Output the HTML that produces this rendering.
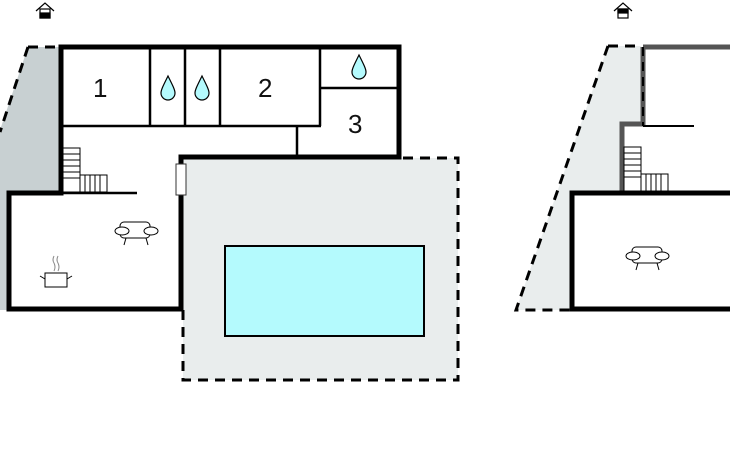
<!DOCTYPE html>
<html><head><meta charset="utf-8"><style>
html,body{margin:0;padding:0;background:#fff;width:730px;height:450px;overflow:hidden}
svg{display:block}
text{font-family:"Liberation Sans",sans-serif;font-size:26px;fill:#111}
</style></head><body>
<svg width="730" height="450" viewBox="0 0 730 450" xmlns="http://www.w3.org/2000/svg">
<!-- left gray trapezoid -->
<polygon points="28,47 60,47 60,192 9,192 9,310 0,310 0,130" fill="#c8d0d2"/>
<path d="M28,47 L0,132" stroke="#000" stroke-width="3" stroke-dasharray="10,7" fill="none"/>
<path d="M28,47 L58,47" stroke="#000" stroke-width="3" stroke-dasharray="10,7" fill="none"/>
<!-- pool area -->
<rect x="183" y="158" width="275" height="222" fill="#e9eded"/>
<path d="M183,310 L183,380 L458,380 L458,158 L400,158" stroke="#000" stroke-width="3" stroke-dasharray="10,7" fill="none"/>
<rect x="225" y="246" width="199" height="90" fill="#b4fafd" stroke="#000" stroke-width="2"/>
<!-- interior thin walls -->
<g stroke="#000" stroke-width="2.5" fill="none">
<line x1="61" y1="126" x2="321" y2="126"/>
<line x1="150" y1="47" x2="150" y2="126"/>
<line x1="185" y1="47" x2="185" y2="126"/>
<line x1="220" y1="47" x2="220" y2="126"/>
<line x1="320" y1="47" x2="320" y2="126"/>
<line x1="320" y1="88" x2="399" y2="88"/>
<line x1="297" y1="126" x2="297" y2="157"/>
<line x1="61" y1="193" x2="137" y2="193"/>
</g>
<!-- thick walls -->
<path d="M61,47 L399,47 L399,157 L181,157 L181,309 L9,309 L9,193 L61,193 Z" stroke="#000" stroke-width="5" fill="none" stroke-linejoin="miter"/>
<rect x="176" y="164" width="10" height="31" fill="#fff" stroke="#333" stroke-width="1"/>
<!-- stairs left -->
<g stroke="#000" stroke-width="1" fill="none">
<rect x="63" y="148" width="17" height="44"/>
<line x1="63" y1="154" x2="80" y2="154"/><line x1="63" y1="160" x2="80" y2="160"/><line x1="63" y1="166" x2="80" y2="166"/><line x1="63" y1="172" x2="80" y2="172"/><line x1="63" y1="178" x2="80" y2="178"/>
<rect x="80" y="175" width="27" height="17"/>
<line x1="85" y1="175" x2="85" y2="192"/><line x1="90" y1="175" x2="90" y2="192"/><line x1="95" y1="175" x2="95" y2="192"/><line x1="100" y1="175" x2="100" y2="192"/>
</g>
<text x="93" y="97">1</text><text x="258" y="97">2</text><text x="348" y="133">3</text>
<!-- drops -->
<g fill="#b4fafd" stroke="#000" stroke-width="1.2">
<path d="M168,76 C163,86 161,90 161,93 A7,7 0 0 0 175,93 C175,90 173,86 168,76Z"/>
<path d="M202,76 C197,86 195,90 195,93 A7,7 0 0 0 209,93 C209,90 207,86 202,76Z"/>
<path d="M359,55 C354,65 352,69 352,72 A7,7 0 0 0 366,72 C366,69 364,65 359,55Z"/>
</g>
<!-- sofa left -->
<g stroke="#000" stroke-width="1" fill="#fff">
<rect x="120" y="222" width="30" height="16" rx="4"/>
<ellipse cx="122" cy="231" rx="7" ry="4"/><ellipse cx="151" cy="231" rx="7" ry="4"/>
<line x1="126" y1="238" x2="124" y2="245"/><line x1="146" y1="238" x2="148" y2="245"/>
</g>
<!-- pot -->
<g stroke="#000" stroke-width="1" fill="#fff">
<rect x="45" y="273" width="22" height="14"/>
<line x1="40" y1="276" x2="45" y2="279"/><line x1="72" y1="276" x2="67" y2="279"/>
<path d="M54,256 q-2,4 0,7 q2,4 0,8 M58,256 q-2,4 0,7 q2,4 0,8" fill="none" stroke="#888"/>
</g>
<!-- house icons -->
<g stroke="#000" stroke-width="1.2" fill="#fff">
<path d="M36,11 L45,3 L54,11" fill="none"/><rect x="40" y="9" width="10" height="9"/><rect x="40" y="13" width="10" height="5" fill="#000"/>
<path d="M614,11 L623,3 L632,11" fill="none"/><rect x="618" y="9" width="10" height="9"/><rect x="618" y="9" width="10" height="4" fill="#000"/>
</g>
<!-- right plan -->
<polygon points="608,46 641,46 641,124 622,124 622,192 572,192 572,310 516,310" fill="#e9eded"/>
<path d="M608,46 L516,310 L570,310 M608,46 L641,46" stroke="#000" stroke-width="3" stroke-dasharray="10,7" fill="none"/>
<path d="M643,47 L730,47 M643,47 L643,126 M643,124 L622,124 L622,193" stroke="#555" stroke-width="5" fill="none"/>
<path d="M643,47 L643,126" stroke="#000" stroke-width="2" stroke-dasharray="9,6" fill="none"/>
<line x1="643" y1="126" x2="694" y2="126" stroke="#000" stroke-width="2"/>
<path d="M730,193 L572,193 L572,309 L730,309" stroke="#000" stroke-width="5" fill="none"/>
<g stroke="#000" stroke-width="1" fill="none">
<rect x="624" y="147" width="17" height="45"/>
<line x1="624" y1="153" x2="641" y2="153"/><line x1="624" y1="159" x2="641" y2="159"/><line x1="624" y1="165" x2="641" y2="165"/><line x1="624" y1="171" x2="641" y2="171"/><line x1="624" y1="177" x2="641" y2="177"/>
<rect x="641" y="174" width="27" height="18"/>
<line x1="646" y1="174" x2="646" y2="192"/><line x1="651" y1="174" x2="651" y2="192"/><line x1="656" y1="174" x2="656" y2="192"/><line x1="661" y1="174" x2="661" y2="192"/>
</g>
<g stroke="#000" stroke-width="1" fill="#fff">
<rect x="632" y="247" width="30" height="16" rx="4"/>
<ellipse cx="633" cy="256" rx="7" ry="4"/><ellipse cx="662" cy="256" rx="7" ry="4"/>
<line x1="638" y1="263" x2="636" y2="270"/><line x1="657" y1="263" x2="659" y2="270"/>
</g>
</svg>
</body></html>
